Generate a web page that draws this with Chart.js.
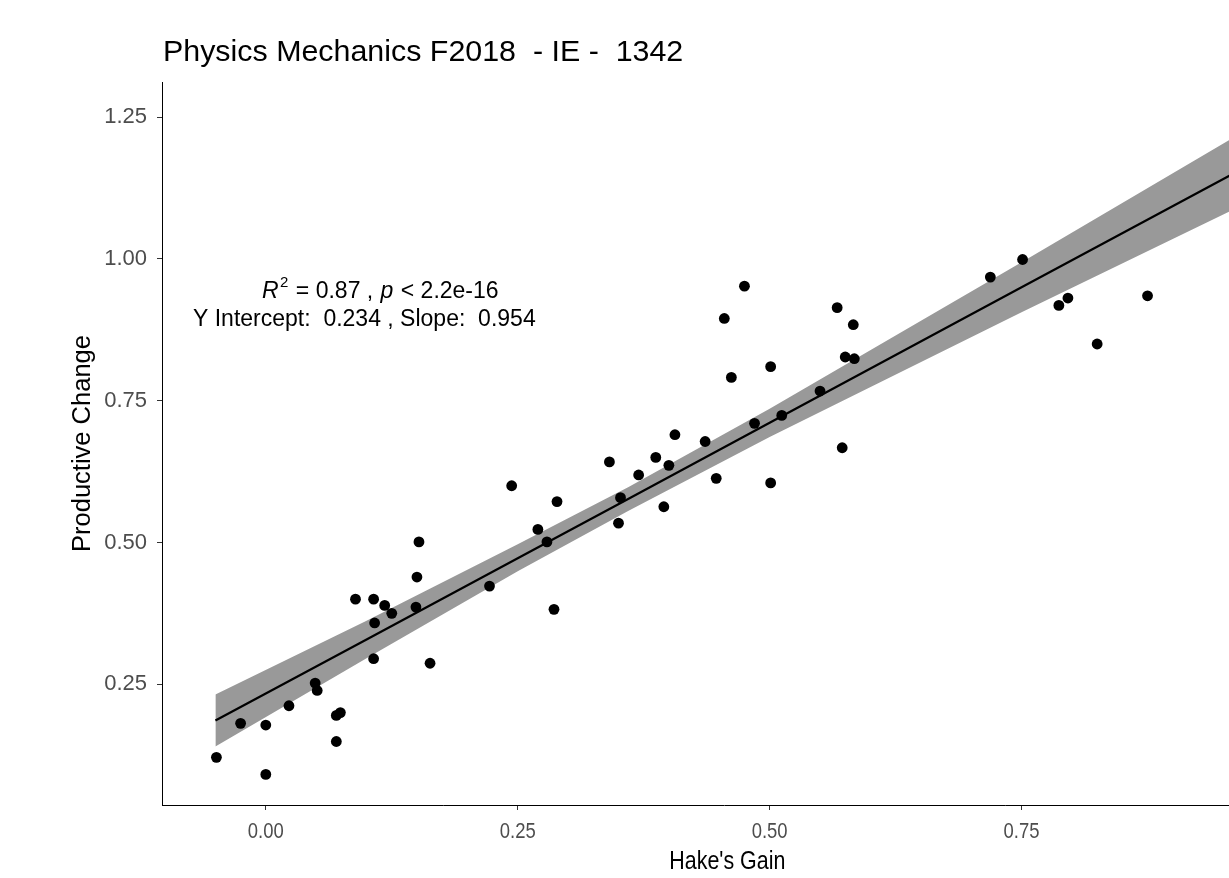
<!DOCTYPE html>
<html>
<head>
<meta charset="utf-8">
<script src="https://cdn.jsdelivr.net/npm/chart.js@4/dist/chart.umd.min.js"></script>
<style>
  html, body { margin: 0; padding: 0; background: #fff; overflow: hidden; }
  #wrap { width: 1229px; height: 878px; overflow: hidden; position: relative; }
  canvas { display: block; }
</style>
</head>
<body>
<div id="wrap"><canvas id="chart" width="1292" height="878"></canvas></div>
<script>
const FONT = '"Liberation Sans", Arial, sans-serif';

const hakesGain = [
  -0.049, -0.025, 0.000, 0.000, 0.023, 0.049, 0.051, 0.070, 0.070, 0.074,
  0.089, 0.107, 0.108, 0.107, 0.118, 0.125, 0.149, 0.150, 0.152, 0.163,
  0.222, 0.244, 0.270, 0.279, 0.286, 0.289, 0.341, 0.350, 0.352, 0.370,
  0.387, 0.395, 0.400, 0.406, 0.436, 0.447, 0.455, 0.462, 0.475, 0.485,
  0.501, 0.501, 0.512, 0.550, 0.567, 0.572, 0.575, 0.583, 0.584, 0.719,
  0.751, 0.787, 0.796, 0.825, 0.875
];
const productiveChange = [
  0.121, 0.181, 0.178, 0.091, 0.212, 0.252, 0.239, 0.149, 0.195, 0.200,
  0.400, 0.400, 0.358, 0.295, 0.389, 0.375, 0.386, 0.439, 0.501, 0.287,
  0.423, 0.600, 0.523, 0.501, 0.382, 0.572, 0.642, 0.534, 0.579, 0.619,
  0.650, 0.563, 0.636, 0.690, 0.678, 0.613, 0.895, 0.791, 0.952, 0.710,
  0.810, 0.605, 0.724, 0.767, 0.914, 0.667, 0.827, 0.884, 0.824, 0.968,
  0.999, 0.918, 0.931, 0.850, 0.935
];

// fitted line and its confidence band, read at a few x positions
const fitX = [-0.05, 0.10, 0.25, 0.36, 0.50, 0.75, 0.965];
const fitY = [0.186, 0.329, 0.472, 0.577, 0.711, 0.950, 1.155];
const bandLow = [0.140, 0.296, 0.449, 0.556, 0.686, 0.906, 1.091];
const bandHigh = [0.232, 0.362, 0.497, 0.598, 0.736, 0.994, 1.219];

const xTicks = [0, 0.25, 0.5, 0.75];
const yTicks = [0.25, 0.5, 0.75, 1.0, 1.25];

const TITLE = "Physics Mechanics F2018  - IE -  1342";
const X_TITLE = "Hake's Gain";
const Y_TITLE = "Productive Change";
const STATS_R2 = "0.87";
const STATS_P = "2.2e-16";
const STATS_LINE2 = "Y Intercept:  0.234 , Slope:  0.954";

const toXY = (xs, ys) => xs.map((x, i) => ({ x, y: ys[i] }));

// the x axis text in the original is horizontally squeezed
function squeezedText(ctx, text, x, y, sx) {
  ctx.save();
  ctx.translate(x, y);
  ctx.scale(sx, 1);
  ctx.fillText(text, 0, 0);
  ctx.restore();
}

const textLayer = {
  id: "textLayer",
  afterDraw(chart) {
    const ctx = chart.ctx;
    const area = chart.chartArea;
    const xs = chart.scales.x;
    ctx.save();

    // x tick labels + title
    ctx.textAlign = "center";
    ctx.textBaseline = "middle";
    ctx.fillStyle = "#4D4D4D";
    ctx.font = `22px ${FONT}`;
    xTicks.forEach((v) => {
      squeezedText(ctx, v.toFixed(2), xs.getPixelForValue(v), area.bottom + 27, 0.84);
    });
    ctx.fillStyle = "#000";
    ctx.font = `25.5px ${FONT}`;
    squeezedText(ctx, X_TITLE, (area.left + area.right) / 2 + 3, 862, 0.84);

    ctx.textBaseline = "alphabetic";
    ctx.textAlign = "left";
    ctx.font = `30.4px ${FONT}`;
    ctx.fillText(TITLE, 163, 61);

    // R^2 = .. , p < ..
    let x = 262;
    const base = 298;
    ctx.font = `italic 23px ${FONT}`;
    ctx.fillText("R", x, base);
    x += ctx.measureText("R").width + 1.5;
    ctx.font = `15px ${FONT}`;
    ctx.fillText("2", x, base - 11);
    x += ctx.measureText("2").width + 1;
    ctx.font = `23px ${FONT}`;
    const mid = ` = ${STATS_R2} , `;
    ctx.fillText(mid, x, base);
    x += ctx.measureText(mid).width + 1;
    ctx.font = `italic 23px ${FONT}`;
    ctx.fillText("p", x, base);
    x += ctx.measureText("p").width + 1;
    ctx.font = `23px ${FONT}`;
    ctx.fillText(` < ${STATS_P}`, x, base);

    ctx.fillText(STATS_LINE2, 193, 326);
    ctx.restore();
  },
};

new Chart(document.getElementById("chart"), {
  type: "scatter",
  data: {
    datasets: [
      {
        label: "points",
        data: toXY(hakesGain, productiveChange),
        backgroundColor: "#000",
        borderWidth: 0,
        pointRadius: 5.4,
      },
      {
        label: "fit",
        data: toXY(fitX, fitY),
        showLine: true,
        borderColor: "#000",
        borderWidth: 2.2,
        pointRadius: 0,
      },
      {
        label: "band high",
        data: toXY(fitX, bandHigh),
        showLine: true,
        borderWidth: 0,
        borderColor: "rgba(0,0,0,0)",
        pointRadius: 0,
        backgroundColor: "#999999",
        fill: "+1",
      },
      {
        label: "band low",
        data: toXY(fitX, bandLow),
        showLine: true,
        borderWidth: 0,
        borderColor: "rgba(0,0,0,0)",
        pointRadius: 0,
      },
    ],
  },
  options: {
    responsive: false,
    animation: false,
    layout: { padding: { top: 82, right: 0, bottom: 0, left: 0 } },
    plugins: {
      legend: { display: false },
      tooltip: { enabled: false },
      title: { display: false },
    },
    scales: {
      x: {
        type: "linear",
        min: -0.103,
        max: 1.013,
        afterFit(scale) { scale.height = 73; },
        afterBuildTicks(scale) { scale.ticks = xTicks.map((v) => ({ value: v })); },
        ticks: { display: false },
        grid: { drawOnChartArea: false, drawTicks: true, tickLength: 5, color: "#333333" },
        border: { display: true, color: "#000", width: 1 },
        title: { display: false },
      },
      y: {
        type: "linear",
        min: 0.037,
        max: 1.312,
        afterFit(scale) { scale.width = 162; },
        afterBuildTicks(scale) { scale.ticks = yTicks.map((v) => ({ value: v })); },
        ticks: {
          color: "#4D4D4D",
          font: { size: 22, family: FONT },
          padding: 10,
          callback: (v) => Number(v).toFixed(2),
        },
        grid: { drawOnChartArea: false, drawTicks: true, tickLength: 5, color: "#333333" },
        border: { display: true, color: "#000", width: 1 },
        title: {
          display: true,
          text: Y_TITLE,
          color: "#000",
          font: { size: 25.5, family: FONT },
          padding: { top: 68, bottom: 0 },
        },
      },
    },
  },
  plugins: [textLayer],
});
</script>
</body>
</html>
